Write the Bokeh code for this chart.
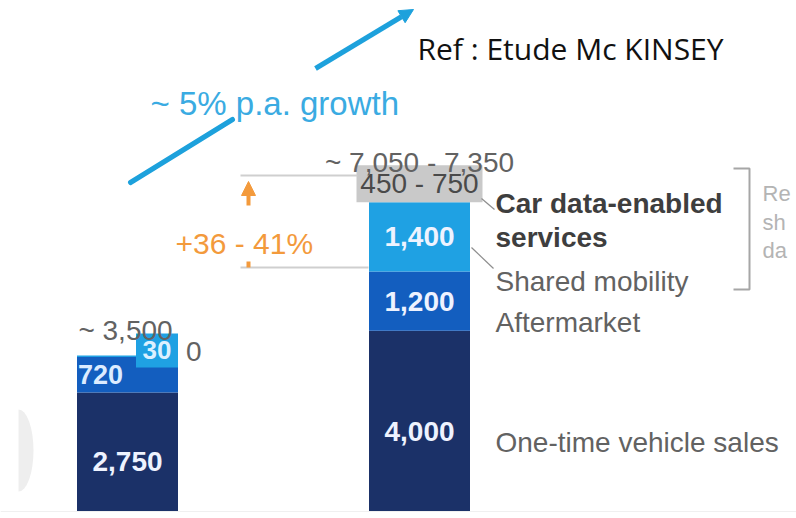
import numpy as np
from bokeh.plotting import figure
from bokeh.models import Range1d, Arrow, NormalHead
from bokeh.core.properties import value
from bokeh.embed import file_html
from bokeh.resources import INLINE

# ---------------- data ----------------
bar_x = [0, 1]
one_time_sales = [2750, 4000]
aftermarket = [720, 1200]
shared_mobility = [30, 1400]
car_data_low = [0, 450]
car_data_high = [0, 750]
one_time_text = ["2,750", "4,000"]
aftermarket_text = ["720", "1,200"]
shared_text = ["30", "1,400"]
car_data_text = ["0", "450 - 750"]
total_text = ["~ 3,500", "~ 7,050 - 7,350"]
segment_names = ["One-time vehicle sales", "Aftermarket", "Shared mobility",
                 "Car data-enabled", "services"]
growth_text = "~ 5% p.a. growth"
uplift_text = "+36 - 41%"
source_text = "Ref : Etude Mc KINSEY"
cut_note = ["Re", "sh", "da"]

# ---------------- styles ----------------
NAVY = "#1b3168"
MED = "#135ebf"
LIGHT = "#1fa1e3"
GREYBOX = "#c9c9c9"
BLUE = "#1da1dc"
ORANGE = "#f39a3c"
TXT = "#626262"
DARK = "#3e3e3e"
WHITE = "#eef3ff"
FONT = "Liberation Sans"

W, H = 796, 518
O = 0                # page offset of the figure
PXX = 292.0          # screen px per bar slot
PXV = 0.0494         # screen px per unit of value
x_lo = -(127 - O) / PXX
y_hi = 2750 + (392 - O) / PXV
BW = 101 / PXX


def X(px):
    return x_lo + (px - O) / PXX


def Y(py):
    return y_hi - (py - O) / PXV


p = figure(width=W, height=H, output_backend="svg", toolbar_location=None,
           x_range=Range1d(x_lo, x_lo + W / PXX),
           y_range=Range1d(y_hi - H / PXV, y_hi),
           x_axis_location=None, y_axis_location=None,
           min_border=0, outline_line_color=None,
           background_fill_color="white", border_fill_color="white")
p.grid.visible = False


def txt(xs, ys, texts, size, color, font=FONT, style="normal",
        align="left", baseline="alphabetic"):
    p.text(x=xs, y=ys, text=texts, text_font=value(font),
           text_font_size=value(f"{size}px"), text_font_style=style,
           text_color=color, text_align=align, text_baseline=baseline)


# faint ghost shape at left edge
p.ellipse(x=[X(18)], y=[Y(450)], width=30, height=82, width_units="screen",
          height_units="screen", fill_color="#eeeeee", line_color=None)
p.quad(left=[X(-5)], right=[X(18)], bottom=[Y(500)], top=[Y(400)],
       fill_color="white", line_color=None)

# ---------------- stacked bars ----------------
t1 = np.array(one_time_sales, dtype=float)
t2 = t1 + np.array(aftermarket)
t3 = t2 + np.array(shared_mobility)
t4 = t3 + np.array(car_data_high)

p.vbar(x=bar_x, bottom=0, top=t1, width=BW, fill_color=NAVY, line_color=None)
p.vbar(x=bar_x, bottom=t1, top=t2, width=BW, fill_color=MED, line_color=None)
p.vbar(x=bar_x, bottom=t2, top=t3, width=BW, fill_color=LIGHT, line_color=None)

rng = [i for i in range(len(bar_x)) if car_data_high[i] > 0]
p.vbar(x=[bar_x[i] for i in rng], bottom=[t3[i] for i in rng],
       top=[t4[i] for i in rng], width=126 / PXX, fill_color=GREYBOX,
       line_color=None)

# small label box for the tiny 30 segment (left bar)
p.rect(x=[bar_x[0] + BW / 2 - 21 / PXX], y=[t3[0] + 5 / PXV], width=42,
       height=34, width_units="screen", height_units="screen",
       fill_color=LIGHT, line_color=None)

# white strip at the bottom edge where the slide was cut
p.quad(left=[X(-5)], right=[X(W + 5)], bottom=[Y(H + 5)], top=[Y(511)],
       fill_color="white", line_color=None)
p.segment(x0=[X(0)], y0=[Y(511)], x1=[X(W)], y1=[Y(511)],
          line_color="#f0f0f0", line_width=1)

# ---------------- value labels ----------------
mid1 = t1 / 2
mid2 = (t1 + t2) / 2
mid3 = (t2 + t3) / 2
txt([bar_x[0], bar_x[1]], [min(mid1[0], Y(461)), min(mid1[1], Y(431))],
    one_time_text, 28, WHITE, style="bold", align="center", baseline="middle")
txt([bar_x[1]], [mid2[1]], [aftermarket_text[1]], 28, WHITE, style="bold",
    align="center", baseline="middle")
txt([bar_x[1]], [mid3[1]], [shared_text[1]], 28, WHITE, style="bold",
    align="center", baseline="middle")
# left bar: 720 left aligned, 30 in its box, 0 outside
txt([bar_x[0] - BW / 2 + 1 / PXX], [mid2[0]], [aftermarket_text[0]], 27,
    "#dcecff", style="bold", align="left", baseline="middle")
txt([bar_x[0] + BW / 2 - 21 / PXX], [t3[0] + 5 / PXV], [shared_text[0]], 26,
    "#dcf0ff", style="bold", align="center", baseline="middle")
txt([bar_x[0] + BW / 2 + 8 / PXX], [t3[0] + 4 / PXV], [car_data_text[0]], 28,
    TXT, align="left", baseline="middle")
# grey range box label
txt([bar_x[1]], [(t3[1] + t4[1]) / 2], [car_data_text[1]], 28, "#4a4a4a",
    align="center", baseline="middle")
# totals
txt([bar_x[0] - 2 / PXX], [t3[0] + 25 / PXV], [total_text[0]], 28, TXT,
    align="center")
txt([bar_x[1]], [t4[1] + 3 / PXV], [total_text[1]], 28, TXT, align="center")

# ---------------- segment names ----------------
lx = X(495)
txt([lx], [Y(442)], [segment_names[0]], 28, TXT)
txt([lx], [Y(322)], [segment_names[1]], 28, TXT)
txt([lx], [Y(281)], [segment_names[2]], 28, TXT)
txt([lx, lx], [Y(203), Y(237)], segment_names[3:], 28, DARK, style="bold")

# leader lines
p.segment(x0=[X(481), X(471)], y0=[Y(198), Y(247)],
          x1=[X(494), X(493)], y1=[Y(209), Y(268)],
          line_color="#8e8e8e", line_width=1.2)

# bracket and cut-off note
p.line(x=[X(733), X(749), X(749), X(733)], y=[Y(168), Y(168), Y(289), Y(289)],
       line_color="#a6a6a6", line_width=2)
txt([X(762)] * 3, [Y(193), Y(222), Y(250)], cut_note, 22, "#b4b4b4")

# ---------------- uplift annotation ----------------
p.segment(x0=[X(240), X(240)], y0=[Y(175), Y(267)],
          x1=[X(357), X(368)], y1=[Y(175), Y(267)],
          line_color="#cfcfcf", line_width=2)
p.add_layout(Arrow(end=NormalHead(size=14, fill_color=ORANGE,
                                  line_color=ORANGE),
                   x_start=X(248), y_start=Y(205), x_end=X(248), y_end=Y(181),
                   line_color=ORANGE, line_width=4))
p.segment(x0=[X(248)], y0=[Y(261)], x1=[X(248)], y1=[Y(267)],
          line_color=ORANGE, line_width=4)
txt([X(175)], [Y(243)], [uplift_text], 30, ORANGE)

# ---------------- growth arrow ----------------
p.segment(x0=[X(130)], y0=[Y(182)], x1=[X(232)], y1=[Y(119)],
          line_color=BLUE, line_width=5, line_cap="round")
p.add_layout(Arrow(end=NormalHead(size=14, fill_color=BLUE, line_color=BLUE),
                   x_start=X(315), y_start=Y(68), x_end=X(413), y_end=Y(9),
                   line_color=BLUE, line_width=5))
txt([X(150)], [Y(103)], [growth_text], 33, "#3aabe2")

# ---------------- source ----------------
txt([X(417)], [Y(48)], [source_text], 30, "#111111", font="Open Sans")

open("out.html", "w").write(file_html(p, INLINE))
